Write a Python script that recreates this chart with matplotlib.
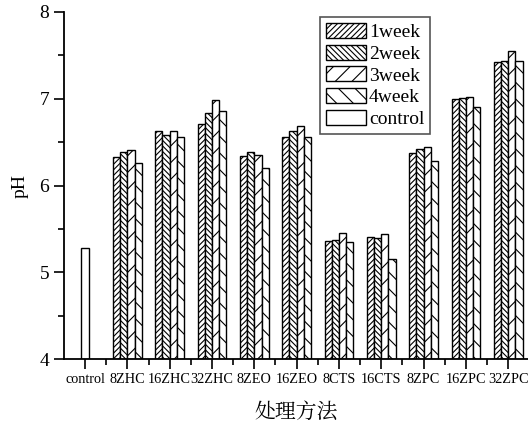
import numpy as np
import matplotlib.pyplot as plt
from matplotlib.ticker import MultipleLocator, FixedLocator

plt.rcParams['hatch.linewidth'] = 0.8

categories = ['control', '8ZHC', '16ZHC', '32ZHC', '8ZEO', '16ZEO',
              '8CTS', '16CTS', '8ZPC', '16ZPC', '32ZPC']
weeks = ['1week', '2week', '3week', '4week']
ph_1week = [6.33, 6.63, 6.71, 6.34, 6.56, 5.36, 5.41, 6.38, 7.00, 7.42]
ph_2week = [6.39, 6.58, 6.83, 6.39, 6.63, 5.37, 5.40, 6.42, 7.01, 7.43]
ph_3week = [6.41, 6.63, 6.99, 6.35, 6.69, 5.45, 5.44, 6.44, 7.02, 7.55]
ph_4week = [6.26, 6.56, 6.86, 6.20, 6.56, 5.35, 5.15, 6.28, 6.90, 7.43]
ph_control = 5.28

hatches = ['//////', '\\\\\\\\\\\\', '//', '\\\\']
series = [ph_1week, ph_2week, ph_3week, ph_4week]

fig = plt.figure(figsize=(5.28, 4.25), dpi=100)
ax = fig.add_axes([0.121, 0.155, 0.88, 0.817])

w = 0.17
x = np.arange(1, len(categories))
for i, (vals, h, lab) in enumerate(zip(series, hatches, weeks)):
    ax.bar(x + (i - 1.5) * w, np.array(vals) - 4, w, bottom=4, color='white',
           edgecolor='black', hatch=h, linewidth=1.0, label=lab)
ax.bar(0, ph_control - 4, 0.19, bottom=4, color='white', edgecolor='black',
       linewidth=1.0, label='control')

ax.set_ylim(4, 8)
ax.set_xlim(-0.5, 10.48)
ax.yaxis.set_major_locator(MultipleLocator(1))
ax.yaxis.set_minor_locator(MultipleLocator(0.5))
ax.set_xticks(np.arange(len(categories)))
ax.set_xticklabels(categories, family='Liberation Serif', fontsize=10.3)
ax.xaxis.set_minor_locator(FixedLocator(np.arange(len(categories)) + 0.5))
for lab in ax.get_yticklabels():
    lab.set_family('Liberation Serif')
    lab.set_fontsize(14)
ax.tick_params(axis='both', which='major', length=7, width=1.2, direction='out')
ax.tick_params(axis='both', which='minor', length=4, width=1.2, direction='out')
ax.tick_params(axis='x', pad=3)

for s in ['top', 'right']:
    ax.spines[s].set_visible(False)
for s in ['left', 'bottom']:
    ax.spines[s].set_linewidth(1.3)

ax.set_ylabel('pH', family='Liberation Serif', fontsize=14, labelpad=8)
ax.set_xlabel('处理方法', family=['Noto Serif CJK SC', 'Noto Sans CJK SC', 'DejaVu Sans'],
              fontsize=15, labelpad=11)

leg = ax.legend(loc='upper left', bbox_to_anchor=(0.552, 0.985),
                prop={'family': 'Liberation Serif', 'size': 14},
                fancybox=False, edgecolor='#555555', framealpha=1,
                handlelength=2.05, handleheight=0.8, handletextpad=0.15,
                labelspacing=0.18, borderpad=0.3, borderaxespad=0.0)
leg.get_frame().set_linewidth(1.2)

plt.savefig('out.png', dpi=100)
plt.close()
